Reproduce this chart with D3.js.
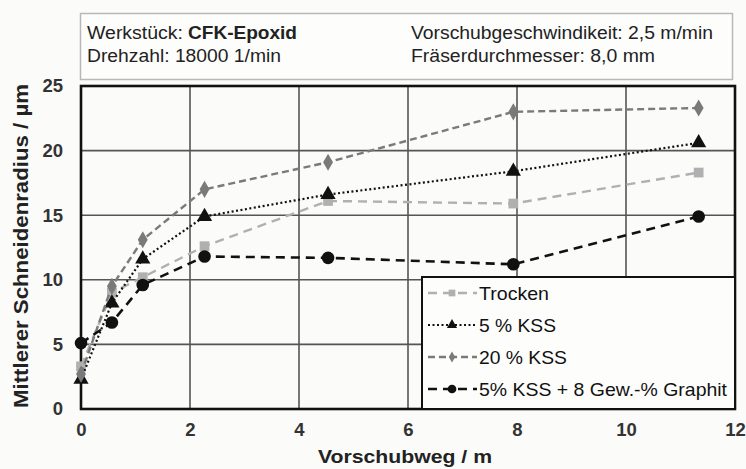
<!DOCTYPE html>
<html><head><meta charset="utf-8">
<script src="https://cdn.jsdelivr.net/npm/d3@7"></script>
<style>
html,body{margin:0;padding:0;background:#fbfbfa;}
svg{display:block;font-family:"Liberation Sans",Arial,Helvetica,sans-serif;}
</style></head>
<body><svg id="c" width="746" height="469"></svg>
<script>
const xValues = [0, 0.567, 1.133, 2.267, 4.533, 7.933, 11.333];
const trocken = [3.3, 9.0, 10.2, 12.6, 16.1, 15.9, 18.3];
const kss5 = [2.3, 8.2, 11.6, 14.9, 16.6, 18.4, 20.6];
const kss20 = [2.7, 9.5, 13.1, 17.0, 19.1, 23.0, 23.3];
const graphit = [5.1, 6.7, 9.6, 11.8, 11.7, 11.2, 14.9];
const seriesNames = ["Trocken", "5 % KSS", "20 % KSS", "5% KSS + 8 Gew.-% Graphit"];
const xTicks = [0, 2, 4, 6, 8, 10, 12];
const yTicks = [0, 5, 10, 15, 20, 25];
const xTitle = "Vorschubweg / m";
const yTitle = "Mittlerer Schneidenradius / µm";

const svg = d3.select("#c");
const L = 81, R = 735, T = 86, B = 409;
const x = d3.scaleLinear().domain([0, 12]).range([L, R]);
const y = d3.scaleLinear().domain([0, 25]).range([B, T]);

function fit(sel, w) {
  sel.attr("textLength", w).attr("lengthAdjust", "spacingAndGlyphs");
  return sel;
}

// header box
svg.append("rect").attr("x", 80.5).attr("y", 13.5).attr("width", 652).attr("height", 66)
  .attr("fill", "#fdfdfc").attr("stroke", "#b8b8b8").attr("stroke-width", 1.5);
const hdr = svg.append("g").attr("font-size", 17.5).attr("fill", "#222");
fit(hdr.append("text").attr("x", 87).attr("y", 39).text("Werkstück:"), 96);
fit(hdr.append("text").attr("x", 188).attr("y", 39).attr("font-weight", "bold").text("CFK-Epoxid"), 109);
fit(hdr.append("text").attr("x", 87).attr("y", 62).text("Drehzahl: 18000 1/min"), 194);
fit(hdr.append("text").attr("x", 411).attr("y", 39).text("Vorschubgeschwindikeit: 2,5 m/min"), 302);
fit(hdr.append("text").attr("x", 411).attr("y", 62).text("Fräserdurchmesser: 8,0 mm"), 244);

// grid
const grid = svg.append("g").attr("stroke", "#555").attr("stroke-width", 1.6);
grid.selectAll("line.v").data(xTicks.slice(1, -1)).join("line")
  .attr("x1", d => x(d)).attr("x2", d => x(d)).attr("y1", T).attr("y2", B);
grid.selectAll("line.h").data(yTicks.slice(1, -1)).join("line")
  .attr("y1", d => y(d)).attr("y2", d => y(d)).attr("x1", L).attr("x2", R);

// axes
const xAxis = svg.append("g").attr("transform", `translate(0,${B})`)
  .call(d3.axisBottom(x).tickValues(xTicks).tickSize(0).tickPadding(14));
const yAxis = svg.append("g").attr("transform", `translate(${L},0)`)
  .call(d3.axisLeft(y).tickValues(yTicks).tickSize(0).tickPadding(18));
[xAxis, yAxis].forEach(a => {
  a.select(".domain").remove();
  a.selectAll("text").attr("font-size", 18.5).attr("font-weight", "bold")
    .attr("fill", "#333").attr("font-family", "\"Liberation Sans\",Arial,sans-serif");
});

// frame
svg.append("rect").attr("x", L).attr("y", T).attr("width", R - L).attr("height", B - T)
  .attr("fill", "none").attr("stroke", "#111").attr("stroke-width", 2.6);

// titles
fit(svg.append("text").attr("x", 405).attr("y", 463).attr("text-anchor", "middle")
  .attr("font-size", 19).attr("font-weight", "bold").attr("fill", "#222").text(xTitle), 174);
fit(svg.append("text").attr("transform", `translate(28,246) rotate(-90)`)
  .attr("text-anchor", "middle").attr("font-size", 19.5).attr("font-weight", "bold")
  .attr("fill", "#222").text(yTitle), 324);

const styles = [
  { data: trocken, color: "#b0b0b0", dash: "9,6", width: 2.4, sym: d3.symbolSquare, size: 95 },
  { data: kss5, color: "#111", dash: "2,2.5", width: 2.2, sym: d3.symbolTriangle, size: 100 },
  { data: kss20, color: "#7a7a7a", dash: "7,4", width: 2.4, sym: d3.symbolDiamond, size: 85 },
  { data: graphit, color: "#111", dash: "9,6", width: 2.6, sym: d3.symbolCircle, size: 125 }
];

const line = d3.line().x(d => x(d[0])).y(d => y(d[1]));
styles.forEach(s => {
  const pts = xValues.map((v, i) => [v, s.data[i]]);
  svg.append("path").attr("d", line(pts)).attr("fill", "none").attr("stroke", s.color)
    .attr("stroke-width", s.width).attr("stroke-dasharray", s.dash);
  svg.append("g").selectAll("path").data(pts).join("path")
    .attr("transform", d => `translate(${x(d[0])},${y(d[1])})`)
    .attr("d", d3.symbol(s.sym, s.size)).attr("fill", s.color);
});

// legend
const lg = svg.append("g");
lg.append("rect").attr("x", 422).attr("y", 277).attr("width", R - 422).attr("height", B - 277)
  .attr("fill", "#fdfdfc").attr("stroke", "#111").attr("stroke-width", 2);
const legendSymbols = [d3.symbolSquare, d3.symbolTriangle, d3.symbolDiamond, d3.symbolCircle];
const legSizes = [45, 45, 35, 60];
const legWidths = [70, 77, 88, 248];
seriesNames.forEach((n, i) => {
  const s = styles[i];
  const yy = 293 + i * 32;
  lg.append("line").attr("x1", 428).attr("x2", 477).attr("y1", yy).attr("y2", yy)
    .attr("stroke", s.color).attr("stroke-width", s.width).attr("stroke-dasharray", s.dash);
  lg.append("path").attr("transform", `translate(452,${yy})`)
    .attr("d", d3.symbol(legendSymbols[i], legSizes[i])).attr("fill", s.color);
  fit(lg.append("text").attr("x", 479).attr("y", yy + 7).attr("font-size", 18.5)
    .attr("fill", "#111").text(n), legWidths[i]);
});
</script></body></html>
